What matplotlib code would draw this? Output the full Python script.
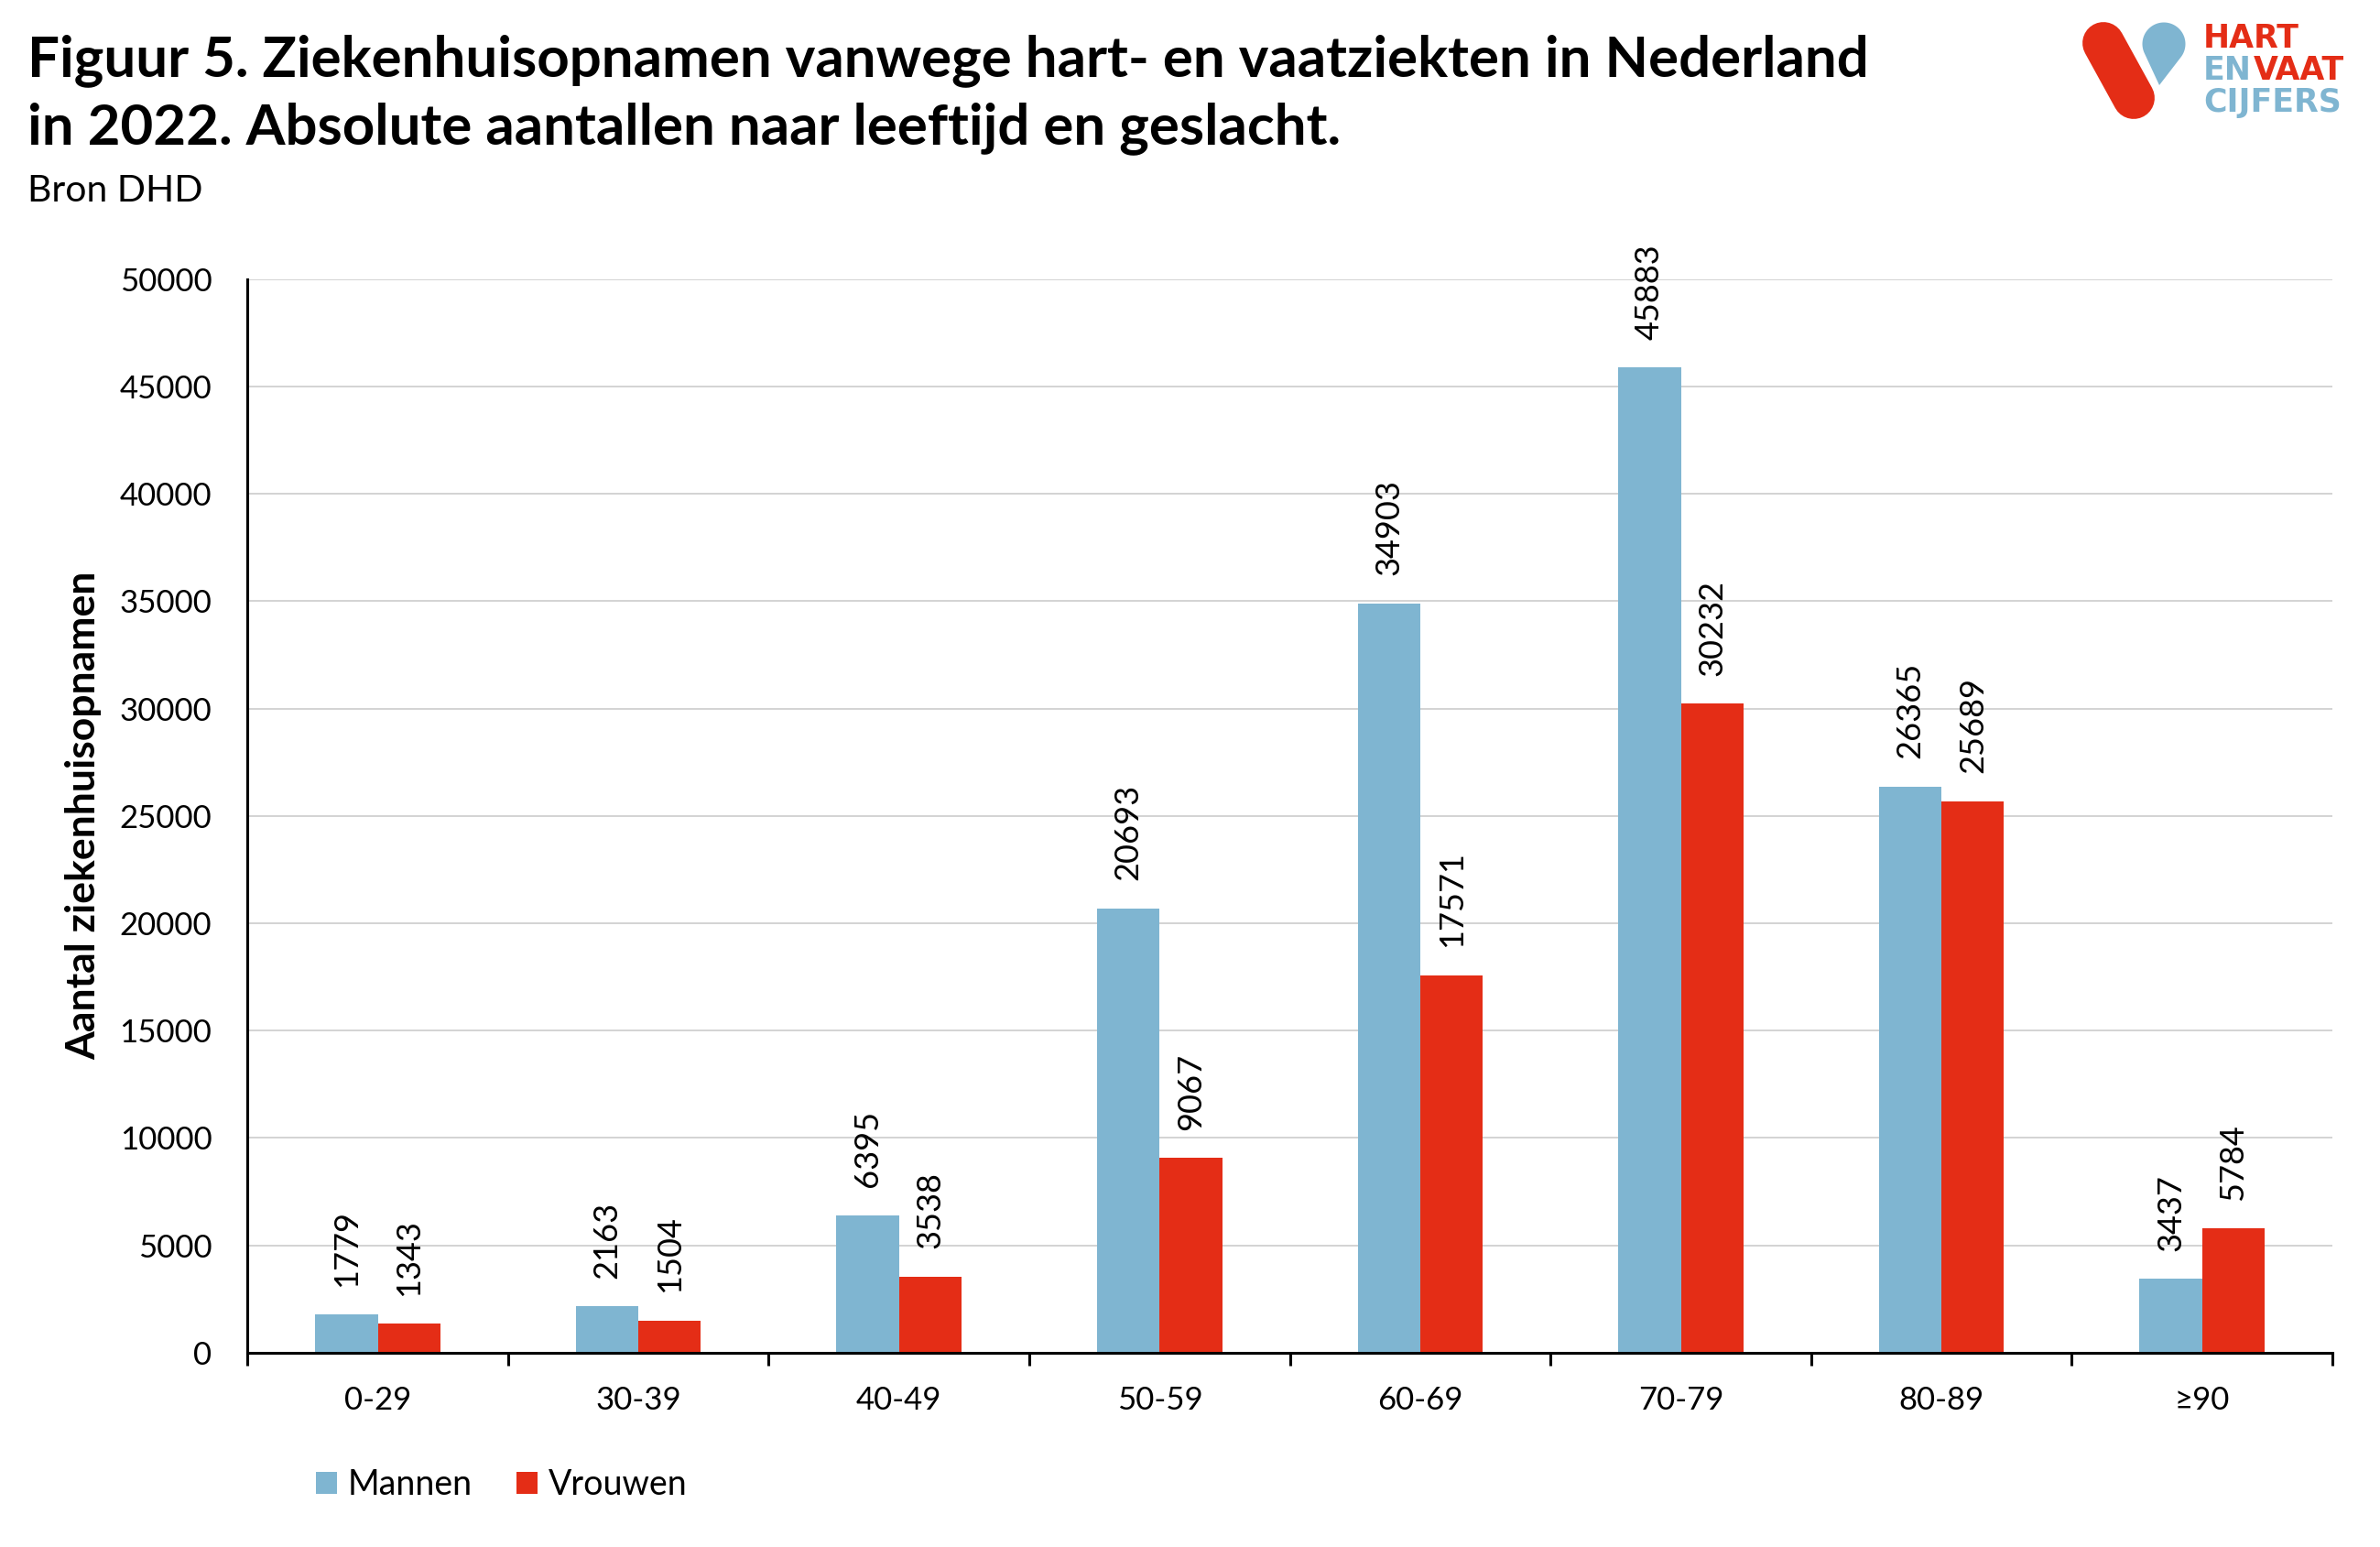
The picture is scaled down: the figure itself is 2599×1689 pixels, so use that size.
import numpy as np
import matplotlib
matplotlib.use("Agg")
import matplotlib.pyplot as plt
from matplotlib.patches import Polygon
from matplotlib.lines import Line2D

# ---------------- data ----------------
categories = ['0-29', '30-39', '40-49', '50-59', '60-69', '70-79', '80-89', '≥90']
mannen = [1779, 2163, 6395, 20693, 34903, 45883, 26365, 3437]
vrouwen = [1343, 1504, 3538, 9067, 17571, 30232, 25689, 5784]
series_names = ['Mannen', 'Vrouwen']
yticks = list(range(0, 50001, 5000))

title_line1 = "Figuur 5. Ziekenhuisopnamen vanwege hart- en vaatziekten in Nederland"
title_line2 = "in 2022. Absolute aantallen naar leeftijd en geslacht."
source = "Bron DHD"
ylabel = "Aantal ziekenhuisopnamen"

BLUE = '#7FB5D1'
RED = '#E42D16'
FONT = ['Lato', 'DejaVu Sans']
plt.rcParams['font.family'] = FONT

W, H = 2599, 1689
fig = plt.figure(figsize=(W / 100, H / 100), dpi=100)
fig.patch.set_facecolor('white')

ax = fig.add_axes([0.104, 0.1256, 0.876, 0.694])
x = np.arange(len(categories)) + 0.5
bw = 0.24
b1 = ax.bar(x - bw / 2, mannen, bw, color=BLUE, label=series_names[0], zorder=3)
b2 = ax.bar(x + bw / 2, vrouwen, bw, color=RED, label=series_names[1], zorder=3)

for bars, vals in ((b1, mannen), (b2, vrouwen)):
    for rect, v in zip(bars, vals):
        ax.annotate(str(v), (rect.get_x() + rect.get_width() / 2, v),
                    xytext=(0, 22), textcoords='offset points',
                    rotation=90, ha='center', va='bottom', fontsize=26)

ax.set_xlim(0, len(categories))
ax.set_ylim(0, 50000)
ax.set_yticks(yticks)
ax.set_yticklabels([str(t) for t in yticks], fontsize=25)
ax.tick_params(axis='y', length=0, pad=28)
ax.set_xticks(np.arange(len(categories) + 1))
ax.set_xticklabels([])
ax.tick_params(axis='x', which='major', length=10, width=2.2, direction='out')
ax.set_xticks(x, minor=True)
ax.set_xticklabels(categories, minor=True, fontsize=25)
ax.tick_params(axis='x', which='minor', length=0, pad=26)

ax.grid(axis='y', color='#C8C8C8', linewidth=1.1, zorder=0)
ax.set_axisbelow(True)
for s in ('top', 'right'):
    ax.spines[s].set_visible(False)
for s in ('left', 'bottom'):
    ax.spines[s].set_linewidth(2.2)
    ax.spines[s].set_zorder(4)

fig.text(55 / 1568, 1 - 537 / 1019, ylabel, rotation=90, ha='center', va='center',
         fontsize=32, fontweight='bold')

fig.text(30 / W, 1 - 83 / H, title_line1, fontsize=44.5, fontweight='bold', va='baseline', ha='left')
fig.text(30 / W, 1 - 157 / H, title_line2, fontsize=44.5, fontweight='bold', va='baseline', ha='left')
fig.text(30 / W, 1 - 220 / H, source, fontsize=29.5, va='baseline', ha='left')

fig.legend(handles=[b1, b2], labels=series_names, loc='center left',
           bbox_to_anchor=(208 / 1568, 1 - 978 / 1019), ncol=2, frameon=False,
           fontsize=27, handlelength=0.62, handleheight=0.62, handletextpad=0.3,
           columnspacing=1.3, borderpad=0, borderaxespad=0)

# ---------------- logo ----------------
lax = fig.add_axes([0, 0, 1, 1], zorder=-1)
lax.set_xlim(0, W)
lax.set_ylim(H, 0)
lax.axis('off')
lax.add_line(Line2D([2297, 2330], [47, 107], color=RED, linewidth=33,
                    solid_capstyle='round'))
c = np.array([2363.0, 48.0]); r = 23.5; tip = np.array([2358.0, 93.0])
v = tip - c; d = np.hypot(*v); base = np.arctan2(v[1], v[0]); a = np.arccos(r / d)
angs = np.linspace(base + a, base + 2 * np.pi - a, 80)
pts = np.column_stack([c[0] + r * np.cos(angs), c[1] + r * np.sin(angs)])
pts = np.vstack([pts, tip])
lax.add_patch(Polygon(pts, closed=True, color=BLUE, lw=0))
lf = dict(fontsize=25, fontweight='bold', family='DejaVu Sans', ha='left')
lax.text(2406, 52, 'HART', color=RED, va='baseline', **lf)
en = lax.text(2406, 87, 'EN', color=BLUE, va='baseline', **lf)
lax.annotate('VAAT', xy=(1, 0), xycoords=en, xytext=(1, 0), textcoords='offset points',
             color=RED, va='bottom', **lf)
lax.text(2406, 122, 'CIJFERS', color=BLUE, va='baseline', **lf)

fig.savefig('out.png', dpi=100, facecolor='white')
